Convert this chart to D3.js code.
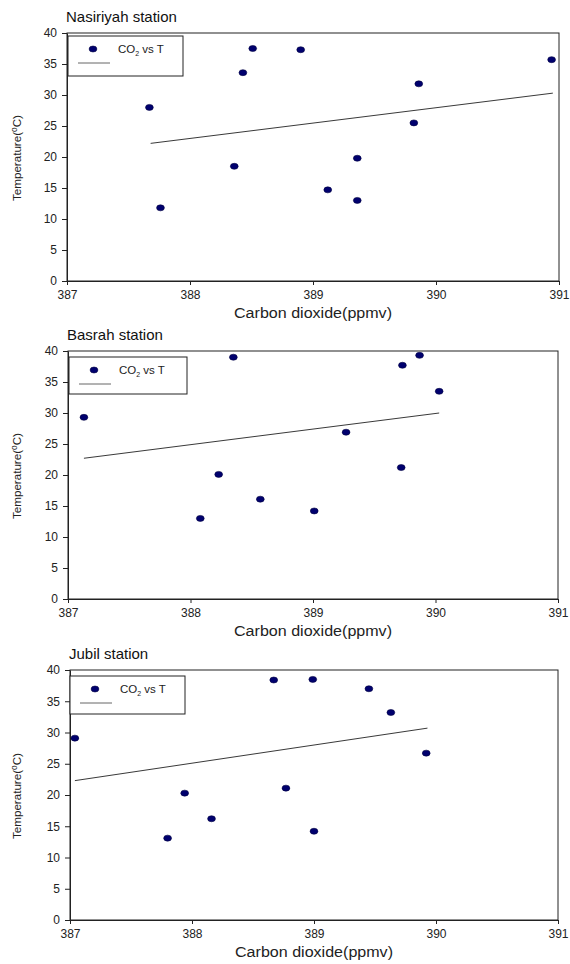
<!DOCTYPE html>
<html>
<head>
<meta charset="utf-8">
<script src="https://cdn.jsdelivr.net/npm/d3@7"></script>
<style>
  body { margin: 0; background: #fff; }
  svg { display: block; font-family: "Liberation Sans", Arial, sans-serif; }
</style>
</head>
<body>
<svg id="chart" width="570" height="964"></svg>
<script>
// station names
const stations = ["Nasiriyah station", "Basrah station", "Jubil station"];

// CO2 (ppmv) and temperature values
const nasiriyahCO2 = [387.67, 387.76, 388.36, 388.43, 388.51, 388.90, 389.12, 389.36, 389.36, 389.82, 389.86, 390.94];
const nasiriyahT   = [28.0, 11.8, 18.5, 33.6, 37.5, 37.3, 14.7, 13.0, 19.8, 25.5, 31.8, 35.7];
const basrahCO2 = [387.13, 388.08, 388.23, 388.35, 388.57, 389.01, 389.27, 389.72, 389.73, 389.87, 390.03];
const basrahT   = [29.3, 13.0, 20.1, 39.0, 16.1, 14.2, 26.9, 21.2, 37.7, 39.3, 33.5];
const jubilCO2 = [387.04, 387.80, 387.94, 388.16, 388.67, 388.77, 388.99, 389.00, 389.45, 389.63, 389.92];
const jubilT   = [29.1, 13.1, 20.3, 16.2, 38.4, 21.1, 38.5, 14.2, 37.0, 33.2, 26.7];

// fitted line end points [co2, T]
const nasiriyahFit = [[387.68, 22.2], [390.95, 30.3]];
const basrahFit    = [[387.13, 22.7], [390.03, 30.0]];
const jubilFit     = [[387.04, 22.3], [389.93, 30.7]];

const xTicks = [387, 388, 389, 390, 391];
const yTicks = [0, 5, 10, 15, 20, 25, 30, 35, 40];

const panels = [
  { co2: nasiriyahCO2, t: nasiriyahT, fit: nasiriyahFit, box: { l: 67, r: 559, t: 33, b: 281 }, legend: { x: 68, y: 36, w: 115, h: 40 } },
  { co2: basrahCO2, t: basrahT, fit: basrahFit, box: { l: 68, r: 558, t: 351, b: 599 }, legend: { x: 69, y: 357, w: 118, h: 37 } },
  { co2: jubilCO2, t: jubilT, fit: jubilFit, box: { l: 70, r: 558, t: 670, b: 920 }, legend: { x: 70, y: 676, w: 115, h: 38 } }
];

const svg = d3.select("#chart");

panels.forEach((p, i) => {
  const { l, r, t, b } = p.box;
  const x = d3.scaleLinear().domain([387, 391]).range([l, r]);
  const y = d3.scaleLinear().domain([0, 40]).range([b, t]);
  const g = svg.append("g");

  // title
  g.append("text")
    .attr("x", l - 1).attr("y", t - 11)
    .attr("font-size", 15).attr("fill", "#111")
    .text(stations[i]);

  // frame
  g.append("rect")
    .attr("x", l).attr("y", t)
    .attr("width", r - l).attr("height", b - t)
    .attr("fill", "none").attr("stroke", "#222").attr("stroke-width", 1);

  // axes
  const xAxis = g.append("g")
    .attr("transform", `translate(0,${b})`)
    .call(d3.axisBottom(x).tickValues(xTicks).tickSize(4).tickSizeOuter(0).tickFormat(d3.format("d")));
  const yAxis = g.append("g")
    .attr("transform", `translate(${l},0)`)
    .call(d3.axisLeft(y).tickValues(yTicks).tickSize(5).tickPadding(5).tickSizeOuter(0));
  [xAxis, yAxis].forEach(a => {
    a.select(".domain").attr("stroke", "#222");
    a.selectAll(".tick line").attr("stroke", "#222");
    a.selectAll("text").attr("font-size", 12).attr("fill", "#222")
      .attr("font-family", "'Liberation Sans', Arial, sans-serif");
  });
  xAxis.selectAll("text").attr("dy", "0.9em");

  // axis titles
  g.append("text")
    .attr("x", (l + r) / 2).attr("y", b + 37)
    .attr("text-anchor", "middle").attr("font-size", 14).attr("fill", "#222")
    .attr("textLength", 158).attr("lengthAdjust", "spacingAndGlyphs")
    .text("Carbon dioxide(ppmv)");
  const ty = g.append("text")
    .attr("transform", `translate(21,${(t + b) / 2 + 1}) rotate(-90)`)
    .attr("text-anchor", "middle").attr("font-size", 11).attr("fill", "#222")
    .attr("textLength", 86).attr("lengthAdjust", "spacingAndGlyphs");
  ty.append("tspan").text("Temperature(");
  ty.append("tspan").attr("dy", -4).attr("font-size", 8).text("0");
  ty.append("tspan").attr("dy", 4).text("C)");

  // fitted line
  g.append("line")
    .attr("x1", x(p.fit[0][0])).attr("y1", y(p.fit[0][1]))
    .attr("x2", x(p.fit[1][0])).attr("y2", y(p.fit[1][1]))
    .attr("stroke", "#222").attr("stroke-width", 0.9);

  // points
  g.selectAll("ellipse.pt")
    .data(p.co2.map((c, k) => [c, p.t[k]]))
    .join("ellipse")
    .attr("class", "pt")
    .attr("cx", d => x(d[0])).attr("cy", d => y(d[1]))
    .attr("rx", 3.9).attr("ry", 3.0)
    .attr("fill", "#00006e").attr("stroke", "#000040").attr("stroke-width", 0.6);

  // legend
  const lg = p.legend;
  g.append("rect")
    .attr("x", lg.x).attr("y", lg.y).attr("width", lg.w).attr("height", lg.h)
    .attr("fill", "#fff").attr("stroke", "#222").attr("stroke-width", 1);
  g.append("ellipse")
    .attr("cx", lg.x + 25).attr("cy", lg.y + 13)
    .attr("rx", 3.9).attr("ry", 3.0)
    .attr("fill", "#00006e").attr("stroke", "#000040").attr("stroke-width", 0.6);
  g.append("line")
    .attr("x1", lg.x + 10).attr("x2", lg.x + 42)
    .attr("y1", lg.y + 27).attr("y2", lg.y + 27)
    .attr("stroke", "#666").attr("stroke-width", 1);
  const lt = g.append("text")
    .attr("x", lg.x + 50).attr("y", lg.y + 17)
    .attr("font-size", 11.5).attr("fill", "#222");
  lt.append("tspan").text("CO");
  lt.append("tspan").attr("dy", 3).attr("font-size", 7).text("2");
  lt.append("tspan").attr("dy", -3).text(" vs T");
});
</script>
</body>
</html>
